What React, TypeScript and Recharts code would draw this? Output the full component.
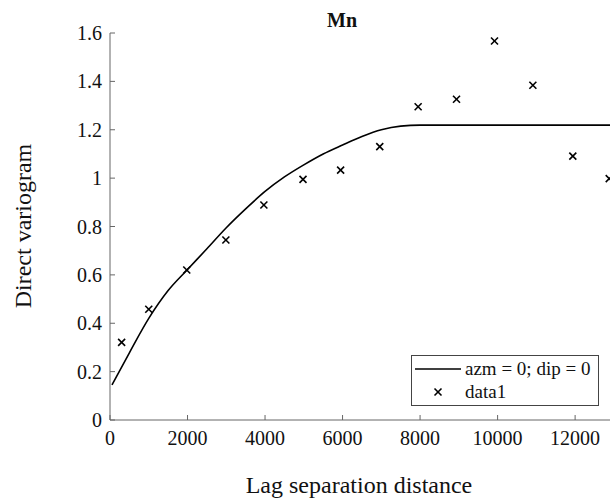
import { ComposedChart, Line, Scatter, XAxis, YAxis } from 'recharts'

// experimental variogram (x markers)
const lagDist = [300, 1000, 1980, 2990, 3970, 4980, 5950, 6960, 7950, 8940, 9920, 10910, 11940, 12880]
const expGamma = [0.321, 0.458, 0.62, 0.744, 0.889, 0.995, 1.033, 1.13, 1.295, 1.326, 1.567, 1.384, 1.091, 0.998]

// fitted model (solid line)
const modelLag = [50, 500, 1000, 1500, 2000, 2500, 3000, 3500, 4000, 4500, 5000, 5500, 6000, 6500, 7000, 7500, 8000, 9000, 10000, 11000, 12000, 12900]
const modelGamma = [0.145, 0.278, 0.42, 0.535, 0.622, 0.708, 0.795, 0.873, 0.945, 1.005, 1.055, 1.1, 1.137, 1.172, 1.2, 1.215, 1.219, 1.219, 1.219, 1.219, 1.219, 1.219]

const xTicks = [0, 2000, 4000, 6000, 8000, 10000, 12000]
const yTicks = [0, 0.2, 0.4, 0.6, 0.8, 1, 1.2, 1.4, 1.6]

const FONT = "'Liberation Serif', 'Times New Roman', 'DejaVu Serif', serif"
const AXIS = '#666'
const INK = '#111'

const expData = lagDist.map((x, i) => ({ x, y: expGamma[i] }))
const modelData = modelLag.map((x, i) => ({ x, y: modelGamma[i] }))

// MATLAB-style 'x' marker
const XMark = (props: any) => {
  const { cx, cy } = props
  if (cx == null || cy == null) return null
  const r = 3.5
  return (
    <g stroke="#000" strokeWidth={1.6}>
      <line x1={cx - r} y1={cy - r} x2={cx + r} y2={cy + r} />
      <line x1={cx - r} y1={cy + r} x2={cx + r} y2={cy - r} />
    </g>
  )
}

// legend box, placed like MATLAB's 'southeast' legend
const LegendBox = () => (
  <div style={{
    position: 'absolute', left: 411, top: 355, width: 188, height: 51, boxSizing: 'border-box',
    border: '1px solid #444', background: '#fff', fontSize: 19, color: INK,
  }}>
    <svg width={186} height={49} style={{ position: 'absolute', left: 0, top: 0 }}>
      <line x1={3} y1={13} x2={49} y2={13} stroke="#000" strokeWidth={1.6} />
      <XMark cx={26} cy={36} />
    </svg>
    <div style={{ position: 'absolute', left: 53, top: 1, lineHeight: '23px', whiteSpace: 'nowrap' }}>azm = 0; dip = 0</div>
    <div style={{ position: 'absolute', left: 53, top: 24, lineHeight: '23px', whiteSpace: 'nowrap' }}>data1</div>
  </div>
)

export default function App() {
  return (
    <div style={{ position: 'absolute', left: 0, top: 0, width: 616, height: 499, background: '#fff', fontFamily: FONT }}>
      <ComposedChart width={616} height={499} margin={{ top: 33, right: 6, bottom: 49, left: 60 }}
        style={{ fontFamily: FONT }}>
        <XAxis
          type="number" dataKey="x" domain={[0, 12900]} ticks={xTicks} height={30}
          allowDataOverflow
          stroke={AXIS} tickSize={-5} tickMargin={16}
          tick={{ fontSize: 20, fill: INK }}
        />
        <YAxis
          type="number" dataKey="y" domain={[0, 1.6]} ticks={yTicks} width={50}
          stroke={AXIS} tickSize={-5} tickMargin={13}
          tick={{ fontSize: 20, fill: INK }}
        />
        <Line data={modelData} dataKey="y" type="monotone" stroke="#000" strokeWidth={1.6}
          dot={false} isAnimationActive={false} />
        <Scatter data={expData} dataKey="y" shape={<XMark />} isAnimationActive={false} />
      </ComposedChart>

      <LegendBox />
      <div style={{ position: 'absolute', left: 302, top: 10, width: 80, textAlign: 'center', fontWeight: 'bold', fontSize: 20, lineHeight: '20px', color: INK }}>
        Mn
      </div>
      <div style={{ position: 'absolute', left: 159, top: 473, width: 400, textAlign: 'center', fontSize: 24, lineHeight: '24px', color: INK }}>
        Lag separation distance
      </div>
      <div style={{
        position: 'absolute', left: 23 - 120, top: 226 - 12, width: 240, textAlign: 'center',
        fontSize: 24, color: INK, transform: 'rotate(-90deg)', lineHeight: '24px',
      }}>
        Direct variogram
      </div>
    </div>
  )
}
